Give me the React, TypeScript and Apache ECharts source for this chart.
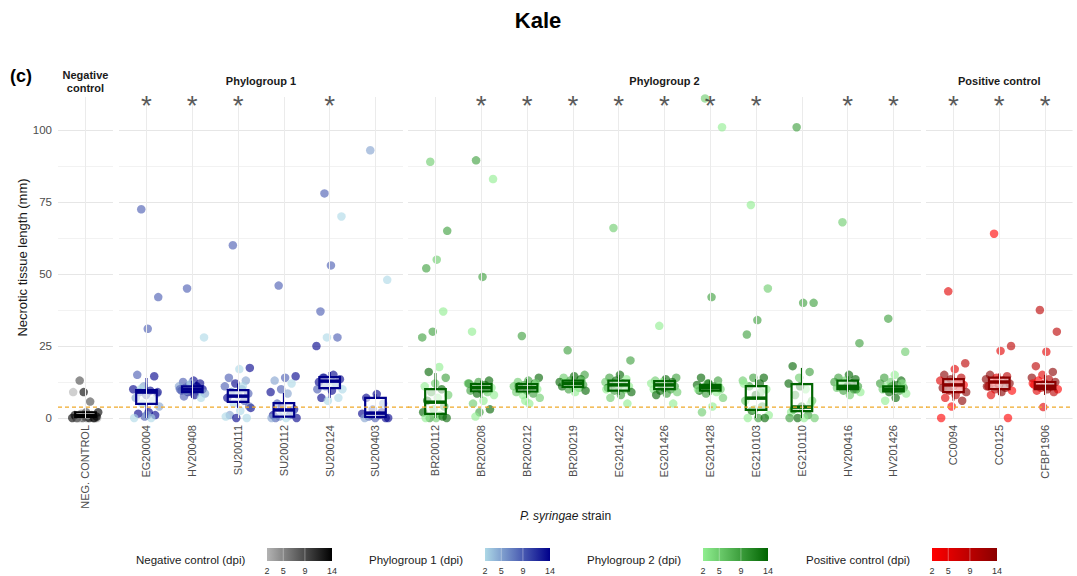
import React, { useEffect, useRef } from 'react';
import * as echarts from 'echarts';

// ---------------- DATA ----------------
const negCats = ['NEG. CONTROL'];
const p1Cats = ['EG200004', 'HV200408', 'SU200111', 'SU200112', 'SU200124', 'SU200403'];
const p2Cats = ['BR200112', 'BR200208', 'BR200212', 'BR200219', 'EG201422', 'EG201426', 'EG201428', 'EG210103', 'EG210110', 'HV200416', 'HV201426'];
const posCats = ['CC0094', 'CC0125', 'CFBP1906'];

const significant = ['EG200004', 'HV200408', 'SU200111', 'SU200124', 'BR200208', 'BR200212', 'BR200219', 'EG201422', 'EG201426', 'EG201428', 'EG210103', 'HV200416', 'HV201426', 'CC0094', 'CC0125', 'CFBP1906'];

const thresholdValue = 3.75;
const dpiTicks = [2, 5, 9, 14];
const yTickLabels = [0, 25, 50, 75, 100];

// box stats: [min, Q1, median, Q3, max]
const negBoxes = [[0, 0, 0.8, 2, 2.5]];
const p1Boxes = [
  [0, 4.9, 9, 9.7, 13.9],
  [7, 9, 10, 11, 13],
  [3.5, 5.6, 7.6, 9.7, 12],
  [0, 0.5, 2.8, 5.2, 8.7],
  [7, 10.4, 12.8, 14.2, 16],
  [0, 0.3, 1.7, 7, 8.3],
];
const p2Boxes = [
  [0, 1.4, 5.5, 10, 15.6],
  [7, 9.3, 10.5, 11.8, 13],
  [7, 9.2, 10.5, 11.8, 13.5],
  [9, 10.8, 12, 13, 14.5],
  [8, 9.5, 11.5, 13, 15],
  [9, 10, 11.5, 12.8, 14],
  [8, 9.5, 10.5, 11.5, 13],
  [0, 2.8, 6.9, 11.1, 13.5],
  [0, 2.4, 3.8, 11.8, 17.4],
  [9, 10, 11, 13, 14.5],
  [8, 9.2, 10, 11, 13],
];
const posBoxes = [
  [6, 9, 11.5, 13.5, 15.5],
  [8, 10, 12.5, 14, 15.5],
  [8, 10, 11, 12.5, 15],
];

// points: [necrotic length (mm), dpi]
const ptsNEG = [[0, 2], [0, 2], [0, 5], [0, 5], [0, 9], [0, 9], [0, 14], [0, 14], [0, 2], [0, 5], [0.5, 9], [1, 14], [1, 9], [1.5, 5], [2, 14], [1, 2], [0, 9], [0, 14], [9, 14], [9, 2], [5.7, 9], [13, 9], [0.5, 14], [2, 9]];
const ptsEG200004 = [[72.5, 9], [42, 9], [31, 9], [15, 9], [14.5, 14], [11, 5], [10, 14], [9.5, 14], [9, 9], [8.5, 5], [8, 9], [7, 5], [6, 2], [5, 2], [4, 5], [2, 14], [1.5, 14], [1, 14], [0.5, 9], [0, 2], [0, 2], [10, 2], [9, 14], [1, 5]];
const ptsHV200408 = [[45, 9], [28, 2], [13, 14], [12.5, 9], [12, 14], [11.5, 9], [11, 5], [11, 14], [10.5, 9], [10, 14], [10, 5], [9.5, 9], [9, 2], [9, 14], [8.5, 5], [8, 14], [7.5, 9], [7, 2], [12, 2], [10, 9], [11, 14], [9.5, 5]];
const ptsSU200111 = [[60, 9], [17.4, 14], [17, 2], [14, 9], [13, 5], [12, 14], [11, 9], [10, 5], [9, 14], [8.5, 9], [8, 5], [7, 14], [6, 9], [5, 2], [3.5, 14], [2.5, 2], [1, 5], [0, 2], [0, 14], [0.5, 2], [11, 2], [9, 2], [4, 9]];
const ptsSU200112 = [[46, 9], [14.5, 14], [14, 9], [13, 5], [12, 2], [10, 9], [9, 14], [8.5, 5], [5, 9], [3, 14], [2, 2], [1, 14], [1, 9], [0.5, 5], [0, 14], [0, 2], [0, 9], [2, 5], [4, 14], [0, 5]];
const ptsSU200124 = [[78, 9], [70, 2], [53, 9], [37, 9], [28, 9], [28, 2], [25, 14], [15, 14], [14, 9], [13.5, 14], [13, 5], [12.5, 14], [12, 9], [11, 5], [10, 2], [9.5, 14], [7, 14], [7, 2], [6, 2], [10, 9], [12, 2], [14, 14]];
const ptsSU200403 = [[93, 5], [48, 2], [8.3, 14], [7, 14], [5, 5], [3, 9], [1.5, 14], [1, 14], [0.5, 9], [0, 14], [0, 9], [0, 5], [2, 14], [1, 9], [0, 14]];
const ptsBR200112 = [[89, 5], [65, 9], [55, 5], [52, 9], [37, 2], [30, 9], [28, 9], [17.7, 2], [16, 14], [14, 9], [12, 5], [11, 2], [10, 14], [9, 9], [8, 5], [7, 2], [6, 14], [4, 9], [3, 5], [2, 14], [1, 2], [0, 9], [0, 14], [0, 5], [0, 2], [0.5, 14]];
const ptsBR200208 = [[89.5, 9], [83, 2], [49, 9], [30, 2], [13, 14], [12.5, 9], [12, 5], [11.5, 14], [11, 9], [10.5, 2], [10, 14], [9.5, 9], [9, 5], [8.5, 14], [8, 2], [6, 2], [5, 5], [3, 14], [2, 9], [12, 9], [10, 5], [0.5, 2]];
const ptsBR200212 = [[28.5, 9], [14, 14], [13, 9], [12.5, 5], [12, 14], [11.5, 9], [11, 5], [10.5, 14], [10, 9], [10, 2], [9.5, 14], [9, 5], [8.5, 9], [8, 2], [7, 5], [5, 2], [11, 14], [12, 2], [6, 2]];
const ptsBR200219 = [[23.5, 9], [15, 9], [14.5, 14], [14, 5], [13.5, 14], [13, 9], [12.5, 14], [12, 5], [12, 14], [11.5, 9], [11, 2], [11, 14], [10.5, 5], [10, 9], [9.5, 14], [9, 2], [12.5, 2], [13, 5]];
const ptsEG201422 = [[66, 5], [20, 9], [15, 14], [14, 9], [13.5, 2], [13, 14], [12.5, 5], [12, 9], [11.5, 14], [11, 2], [11, 9], [10.5, 14], [10, 5], [9.5, 9], [9, 14], [8, 9], [7, 5], [5, 2], [12, 2], [10, 2]];
const ptsEG201426 = [[32, 2], [14, 9], [13.5, 14], [13, 5], [12.5, 14], [12, 9], [12, 2], [11.5, 14], [11, 5], [11, 9], [10.5, 14], [10, 2], [10, 9], [9.5, 14], [9, 5], [8.5, 9], [8, 14], [5, 2], [12.5, 2]];
const ptsEG201428 = [[111, 5], [101, 2], [42, 9], [14, 14], [13, 9], [12, 5], [11.5, 14], [11, 9], [10.5, 14], [10, 5], [10, 9], [9.5, 14], [9, 2], [8.5, 9], [7, 5], [4, 2], [2, 5], [11, 2], [12, 14], [10, 2]];
const ptsEG210103 = [[74, 2], [45, 5], [34, 9], [29, 9], [14, 14], [14, 9], [13, 5], [12, 14], [11, 9], [10, 2], [8, 14], [6, 5], [4, 9], [2.5, 14], [1, 2], [0, 9], [0, 2], [0, 14], [3, 5], [12, 2], [9, 5]];
const ptsEG210110 = [[101, 9], [40, 9], [40, 9], [18, 14], [16, 9], [14, 5], [12, 14], [10, 2], [8, 9], [6, 5], [4, 14], [2, 2], [1, 9], [0, 14], [0, 5], [0, 2], [3, 9], [5, 2], [11, 14], [0, 9]];
const ptsHV200416 = [[68, 5], [26, 9], [15, 14], [14, 9], [13.5, 14], [13, 5], [12.5, 9], [12, 14], [11.5, 2], [11, 9], [11, 14], [10.5, 5], [10, 14], [9.5, 9], [9, 2], [8, 5], [12, 2], [10, 9]];
const ptsHV201426 = [[34.5, 9], [23, 5], [15, 2], [14, 9], [13, 14], [12.5, 5], [12, 9], [11.5, 14], [11, 2], [10.5, 9], [10, 14], [10, 5], [9.5, 9], [9, 14], [8.5, 2], [7, 14], [6, 2], [12, 2], [11, 9]];
const ptsCC0094 = [[44, 5], [19, 9], [17, 5], [15, 14], [14, 9], [13.5, 14], [13, 5], [12.5, 9], [12, 14], [11.5, 2], [11, 9], [10.5, 14], [10, 5], [9.5, 9], [9, 14], [8, 9], [7, 5], [6, 14], [4, 2], [0, 2], [12, 2], [10, 14]];
const ptsCC0125 = [[64, 2], [25, 9], [23.3, 5], [15, 14], [14.5, 9], [14, 5], [13.5, 14], [13, 9], [12.5, 2], [12, 14], [11.5, 9], [11, 5], [10.5, 14], [10, 9], [9.5, 2], [9, 14], [8, 5], [0, 2], [13, 2], [11, 14]];
const ptsCFBP1906 = [[37.5, 9], [30, 9], [23, 5], [18, 9], [16, 14], [15, 5], [14, 14], [13.5, 9], [13, 2], [12.5, 14], [12, 9], [11.5, 5], [11, 14], [10.5, 9], [10, 2], [10, 14], [9.5, 5], [9, 9], [3.8, 5], [12, 2], [11, 14]];

const negPoints = [ptsNEG];
const p1Points = [ptsEG200004, ptsHV200408, ptsSU200111, ptsSU200112, ptsSU200124, ptsSU200403];
const p2Points = [ptsBR200112, ptsBR200208, ptsBR200212, ptsBR200219, ptsEG201422, ptsEG201426, ptsEG201428, ptsEG210103, ptsEG210110, ptsHV200416, ptsHV201426];
const posPoints = [ptsCC0094, ptsCC0125, ptsCFBP1906];

// ---------------- STYLE ----------------
const FONT = '"Liberation Sans", Arial, sans-serif';
const U = 45.8; // px per category
const GRID_TOP = 97;
const GRID_H = 321;
const Y_MAX = 111.5;
const THRESH_COLOR = '#f0a92a';

const panels = [
  { title: 'Negative\ncontrol', cats: negCats, boxes: negBoxes, points: negPoints, left: 58, low: '#b3b3b3', high: '#000000', legend: 'Negative control (dpi)', legTextX: 136, legBarX: 267 },
  { title: 'Phylogroup 1', cats: p1Cats, boxes: p1Boxes, points: p1Points, left: 119, low: '#add8e6', high: '#00008b', legend: 'Phylogroup 1 (dpi)', legTextX: 369, legBarX: 485 },
  { title: 'Phylogroup 2', cats: p2Cats, boxes: p2Boxes, points: p2Points, left: 408, low: '#90ee90', high: '#006400', legend: 'Phylogroup 2 (dpi)', legTextX: 587, legBarX: 703 },
  { title: 'Positive control', cats: posCats, boxes: posBoxes, points: posPoints, left: 926, low: '#ff0000', high: '#8b0000', legend: 'Positive control (dpi)', legTextX: 806, legBarX: 932 },
];

function hexToRgb(h: string) {
  const n = parseInt(h.slice(1), 16);
  return [(n >> 16) & 255, (n >> 8) & 255, n & 255];
}
function mix(a: string, b: string, t: number) {
  const A = hexToRgb(a), B = hexToRgb(b);
  const c = A.map((v, i) => Math.round(v + (B[i] - v) * t));
  return `rgb(${c[0]},${c[1]},${c[2]})`;
}
function dpiT(d: number) { return (d - dpiTicks[0]) / (dpiTicks[dpiTicks.length - 1] - dpiTicks[0]); }
function jitter(i: number) { return (((i * 0.6180339887 + 0.31) % 1) - 0.5) * 0.6; }

export default function App() {
  const ref = useRef<HTMLDivElement>(null);
  useEffect(() => {
    if (!ref.current) return;
    const chart = echarts.init(ref.current, null, { renderer: 'svg' });

    const grids: any[] = [];
    const xAxes: any[] = [];
    const yAxes: any[] = [];
    const series: any[] = [];
    const graphics: any[] = [];

    panels.forEach((p, k) => {
      const n = p.cats.length;
      const width = (n + 0.2) * U;
      grids.push({ left: p.left, top: GRID_TOP, width, height: GRID_H, containLabel: false });
      xAxes.push({
        type: 'value', gridIndex: k, min: -0.6, max: n - 0.4,
        axisLine: { show: false }, axisTick: { show: false }, splitLine: { show: false },
        axisLabel: {
          customValues: p.cats.map((_, i) => i),
          formatter: (v: number) => p.cats[Math.round(v)] ?? '',
          rotate: 90, color: '#4d4d4d', fontSize: 11, fontFamily: FONT, margin: 7,
        },
      });
      yAxes.push({
        type: 'value', gridIndex: k, min: 0, max: Y_MAX, interval: 12.5,
        axisLine: { show: false }, axisTick: { show: false },
        axisLabel: {
          show: k === 0, color: '#4d4d4d', fontSize: 11.5, fontFamily: FONT, margin: 6,
          formatter: (v: number) => (yTickLabels.includes(v) ? String(v) : ''),
        },
        splitLine: { show: true, showMaxLine: false, lineStyle: { color: ['#e6e6e6', '#f2f2f2'], width: 1 } },
        name: k === 0 ? 'Necrotic tissue length (mm)' : '',
        nameLocation: 'middle', nameGap: 24,
        nameTextStyle: { color: '#1a1a1a', fontSize: 13, fontFamily: FONT },
      });

      // vertical grid lines
      series.push({
        type: 'scatter', xAxisIndex: k, yAxisIndex: k, data: [], z: 1, silent: true,
        markLine: {
          silent: true, symbol: ['none', 'none'], label: { show: false }, animation: false,
          data: p.cats.map((_, i) => ({ xAxis: i, lineStyle: { color: '#ebebeb', width: 1, type: 'solid' } })),
        },
      });

      // points
      const pts: any[] = [];
      p.points.forEach((arr, ci) => {
        arr.forEach((pt, j) => {
          pts.push({
            value: [ci + jitter(j), pt[0], pt[1]],
            itemStyle: { color: mix(p.low, p.high, dpiT(pt[1])), opacity: 0.62 },
          });
        });
      });
      series.push({
        type: 'scatter', xAxisIndex: k, yAxisIndex: k, data: pts, symbolSize: 8.5, z: 2, clip: true, silent: true,
      });

      // boxes
      const col = p.high;
      series.push({
        type: 'custom', xAxisIndex: k, yAxisIndex: k, z: 3, silent: true, clip: true,
        data: p.boxes.map((b, i) => [i, ...b]),
        encode: { x: 0, y: [1, 2, 3, 4, 5] },
        renderItem: (_params: any, api: any) => {
          const x = api.value(0);
          const lo = api.coord([x, api.value(1)]);
          const q1 = api.coord([x, api.value(2)]);
          const md = api.coord([x, api.value(3)]);
          const q3 = api.coord([x, api.value(4)]);
          const hi = api.coord([x, api.value(5)]);
          const w = api.size([0.45, 0])[0];
          const cx = lo[0];
          return {
            type: 'group',
            children: [
              { type: 'line', shape: { x1: cx, y1: hi[1], x2: cx, y2: q3[1] }, style: { stroke: col, lineWidth: 2 } },
              { type: 'line', shape: { x1: cx, y1: q1[1], x2: cx, y2: lo[1] }, style: { stroke: col, lineWidth: 2 } },
              { type: 'rect', shape: { x: cx - w / 2, y: q3[1], width: w, height: Math.max(q1[1] - q3[1], 0.5) }, style: { fill: 'rgba(255,255,255,0.55)', stroke: col, lineWidth: 2.2 } },
              { type: 'line', shape: { x1: cx - w / 2, y1: md[1], x2: cx + w / 2, y2: md[1] }, style: { stroke: col, lineWidth: 3.5 } },
            ],
          };
        },
      });

      // threshold dashed line (spans the panel, bridging the panel gap)
      series.push({
        type: 'custom', xAxisIndex: k, yAxisIndex: k, z: 4, silent: true, clip: false,
        data: [[0, thresholdValue]],
        encode: { x: 0, y: 1 },
        renderItem: (params: any, api: any) => {
          const cs = params.coordSys;
          const y = api.coord([0, api.value(1)])[1];
          const ext = k < panels.length - 1 ? 6 : 0;
          return {
            type: 'line',
            shape: { x1: cs.x, y1: y, x2: cs.x + cs.width + ext, y2: y },
            style: { stroke: THRESH_COLOR, lineWidth: 1.2, lineDash: [4, 3], fill: null },
          };
        },
      });

      // significance asterisks
      series.push({
        type: 'scatter', xAxisIndex: k, yAxisIndex: k, z: 5, silent: true, clip: false,
        symbolSize: 1, itemStyle: { color: 'rgba(0,0,0,0)' },
        data: p.cats.map((c, i) => (significant.includes(c) ? [i, 108.6] : null)).filter(Boolean),
        label: { show: true, position: 'inside', formatter: '*', fontSize: 28, color: '#2e2e2e', fontFamily: FONT },
      });

      // strip title
      graphics.push({
        type: 'text', x: p.left + width / 2, y: k === 0 ? 81.5 : 81,
        style: { text: p.title, fontSize: 11, fontWeight: 'bold', fontFamily: FONT, fill: '#1a1a1a', textAlign: 'center', textVerticalAlign: 'middle', lineHeight: 13 },
      });

      // legend
      const barW = 65;
      graphics.push({
        type: 'text', x: p.legTextX, y: 560,
        style: { text: p.legend, fontSize: 11.5, fontFamily: FONT, fill: '#1a1a1a', textAlign: 'left', textVerticalAlign: 'middle' },
      });
      graphics.push({
        type: 'rect', shape: { x: p.legBarX, y: 548, width: barW, height: 13 },
        style: {
          fill: new echarts.graphic.LinearGradient(0, 0, 1, 0, [
            { offset: 0, color: p.low }, { offset: 1, color: p.high },
          ]),
        },
      });
      dpiTicks.forEach((d) => {
        const tx = p.legBarX + dpiT(d) * barW;
        if (d !== dpiTicks[0] && d !== dpiTicks[dpiTicks.length - 1]) {
          graphics.push({ type: 'line', shape: { x1: tx, y1: 548, x2: tx, y2: 561 }, style: { stroke: 'rgba(255,255,255,0.5)', lineWidth: 0.7 } });
        }
        graphics.push({
          type: 'text', x: tx, y: 571,
          style: { text: String(d), fontSize: 9, fontFamily: FONT, fill: '#333333', textAlign: 'center', textVerticalAlign: 'middle' },
        });
      });
    });

    graphics.push({
      type: 'text', x: 538, y: 20,
      style: { text: 'Kale', fontSize: 22, fontWeight: 'bold', fontFamily: FONT, fill: '#000', textAlign: 'center', textVerticalAlign: 'middle' },
    });
    graphics.push({
      type: 'text', x: 10, y: 76,
      style: { text: '(c)', fontSize: 18, fontWeight: 'bold', fontFamily: FONT, fill: '#000', textAlign: 'left', textVerticalAlign: 'middle' },
    });
    graphics.push({
      type: 'text', x: 565.5, y: 516,
      style: {
        text: '{i|P. syringae} strain', fontSize: 12, fontFamily: FONT, fill: '#1a1a1a', textAlign: 'center', textVerticalAlign: 'middle',
        rich: { i: { fontStyle: 'italic', fontSize: 12, fontFamily: FONT, fill: '#1a1a1a' } },
      },
    });

    chart.setOption({
      animation: false,
      backgroundColor: '#ffffff',
      grid: grids,
      xAxis: xAxes,
      yAxis: yAxes,
      series,
      graphic: graphics,
    });
    return () => chart.dispose();
  }, []);
  return <div ref={ref} style={{ position: 'absolute', left: 0, top: 0, width: 1077, height: 576 }} />;
}
